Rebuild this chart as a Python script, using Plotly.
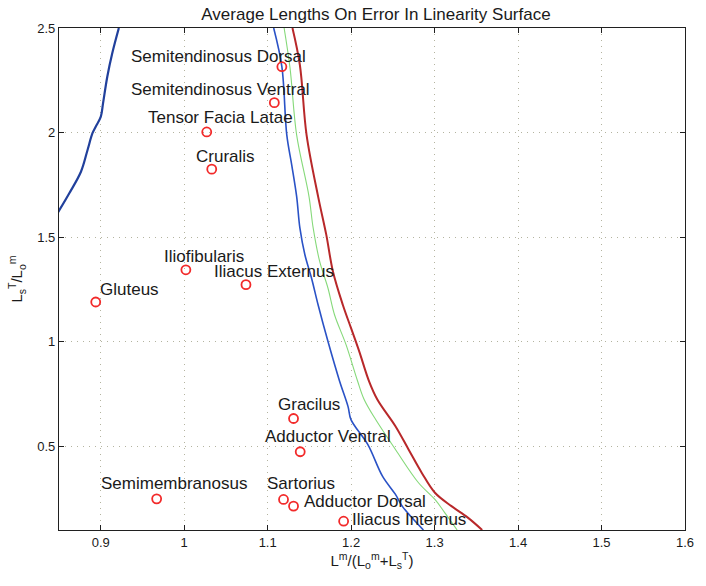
import plotly.graph_objects as go

# Muscle operating points
muscles = ["Semitendinosus Dorsal", "Semitendinosus Ventral", "Tensor Facia Latae",
           "Cruralis", "Iliofibularis", "Iliacus Externus", "Gluteus", "Gracilus",
           "Adductor Ventral", "Semimembranosus", "Sartorius", "Adductor Dorsal",
           "Iliacus Internus"]
length_ratio = [1.117, 1.108, 1.027, 1.033, 1.002, 1.074, 0.894, 1.131,
                1.139, 0.967, 1.119, 1.131, 1.191]
tendon_ratio = [2.315, 2.143, 2.003, 1.825, 1.344, 1.273, 1.190, 0.633,
                0.474, 0.249, 0.246, 0.214, 0.142]

# Error contour lines
left_x = [0.9217, 0.9138, 0.9079, 0.9028, 0.9001, 0.8941, 0.8901, 0.8842,
          0.8764, 0.8625, 0.8507, 0.8490]
left_y = [2.500, 2.379, 2.268, 2.141, 2.076, 2.029, 1.997, 1.917,
          1.814, 1.711, 1.631, 1.620]

blue_x = [1.1072, 1.1170, 1.1229, 1.1288, 1.1347, 1.1386, 1.1446, 1.1525, 1.1604,
          1.1722, 1.1860, 1.1963, 1.1998, 1.2199, 1.2377, 1.2531, 1.2614, 1.2866]
blue_y = [2.500, 2.315, 1.989, 1.846, 1.695, 1.544, 1.416, 1.305, 1.177,
          1.002, 0.814, 0.690, 0.628, 0.509, 0.356, 0.270, 0.213, 0.100]

green_x = [1.1197, 1.1268, 1.1347, 1.1495, 1.1545, 1.1623, 1.1722, 1.1801, 1.1939,
           1.2078, 1.2156, 1.2294, 1.2531, 1.2807, 1.3004, 1.3123, 1.3270]
green_y = [2.500, 2.308, 1.989, 1.695, 1.544, 1.384, 1.257, 1.129, 0.986,
           0.811, 0.724, 0.628, 0.485, 0.326, 0.246, 0.182, 0.100]

red_x = [1.1297, 1.1386, 1.1466, 1.1604, 1.1702, 1.1782, 1.1900, 1.1998, 1.2097,
         1.2215, 1.2314, 1.2531, 1.2688, 1.2847, 1.3004, 1.3202, 1.3398, 1.3570]
red_y = [2.500, 2.323, 1.989, 1.695, 1.512, 1.336, 1.177, 1.066, 0.954,
         0.811, 0.724, 0.596, 0.485, 0.373, 0.278, 0.214, 0.159, 0.100]

x_ticks = [0.9, 1.0, 1.1, 1.2, 1.3, 1.4, 1.5, 1.6]
x_tick_text = ["0.9", "1", "1.1", "1.2", "1.3", "1.4", "1.5", "1.6"]
y_ticks = [0.5, 1.0, 1.5, 2.0, 2.5]
y_tick_text = ["0.5", "1", "1.5", "2", "2.5"]

# label placement (pixel offsets from each marker: right, up)
label_shift = {
    "Semitendinosus Dorsal": (-152, 10),
    "Semitendinosus Ventral": (-144, 13),
    "Tensor Facia Latae": (-60, 14),
    "Cruralis": (-17, 13),
    "Iliofibularis": (-23, 13),
    "Iliacus Externus": (-33, 13),
    "Gluteus": (3, 13),
    "Gracilus": (-17, 14),
    "Adductor Ventral": (-36, 15),
    "Semimembranosus": (-57, 15),
    "Sartorius": (-18, 16),
    "Adductor Dorsal": (9, 5),
    "Iliacus Internus": (7, 2),
}

FONT = "Liberation Sans, Arial, Helvetica, sans-serif"

fig = go.Figure()
curve_styles = [
    (left_x, left_y, "#21409c", 2.2),
    (blue_x, blue_y, "#2a52c6", 1.6),
    (green_x, green_y, "#86d97a", 1.1),
    (red_x, red_y, "#b8282a", 2.0),
]
for cx, cy, col, w in curve_styles:
    fig.add_trace(go.Scatter(x=cx, y=cy, mode="lines",
                             line=dict(color=col, width=w, shape="spline", smoothing=1.0),
                             hoverinfo="skip"))

fig.add_trace(go.Scatter(x=length_ratio, y=tendon_ratio, mode="markers",
                         marker=dict(symbol="circle-open", size=9,
                                     color="#f22a2a", line=dict(width=1.8)),
                         text=muscles, hoverinfo="text"))

for name, xv, yv in zip(muscles, length_ratio, tendon_ratio):
    dx, dy = label_shift[name]
    fig.add_annotation(x=xv, y=yv, text=name, showarrow=False,
                       xanchor="left", yanchor="middle", xshift=dx, yshift=dy,
                       borderpad=0,
                       font=dict(family=FONT, size=17, color="#1a1a1a"))

axis_common = dict(showline=True, linecolor="#202020", linewidth=1.2, mirror="ticks",
                   ticks="inside", ticklen=5, tickcolor="#202020",
                   showgrid=True, gridcolor="#b4b4a0", griddash="1px,5px", gridwidth=1,
                   zeroline=False,
                   tickfont=dict(family=FONT, size=13, color="#1a1a1a"))

fig.update_xaxes(range=[0.85, 1.6], tickvals=x_ticks, ticktext=x_tick_text,
                 title=dict(text="L<sup>m</sup>/(L<sub>o</sub><sup>m</sup>+L<sub>s</sub><sup>T</sup>)",
                            font=dict(family=FONT, size=15, color="#1a1a1a"), standoff=6),
                 **axis_common)
fig.update_yaxes(range=[0.1, 2.5], tickvals=y_ticks, ticktext=y_tick_text,
                 title=dict(text="L<sub>s</sub><sup>T</sup>/L<sub>o</sub><sup>m</sup>",
                            font=dict(family=FONT, size=15, color="#1a1a1a"), standoff=10),
                 **axis_common)

fig.update_layout(
    width=706, height=586,
    margin=dict(l=59, r=13, t=28, b=56),
    paper_bgcolor="white", plot_bgcolor="white",
    showlegend=False,
    title=dict(text="Average Lengths On Error In Linearity Surface",
               x=376 / 706, xanchor="center", y=1 - 14 / 586, yanchor="middle",
               font=dict(family=FONT, size=17, color="#1a1a1a")),
)

fig.write_html("out.html")
